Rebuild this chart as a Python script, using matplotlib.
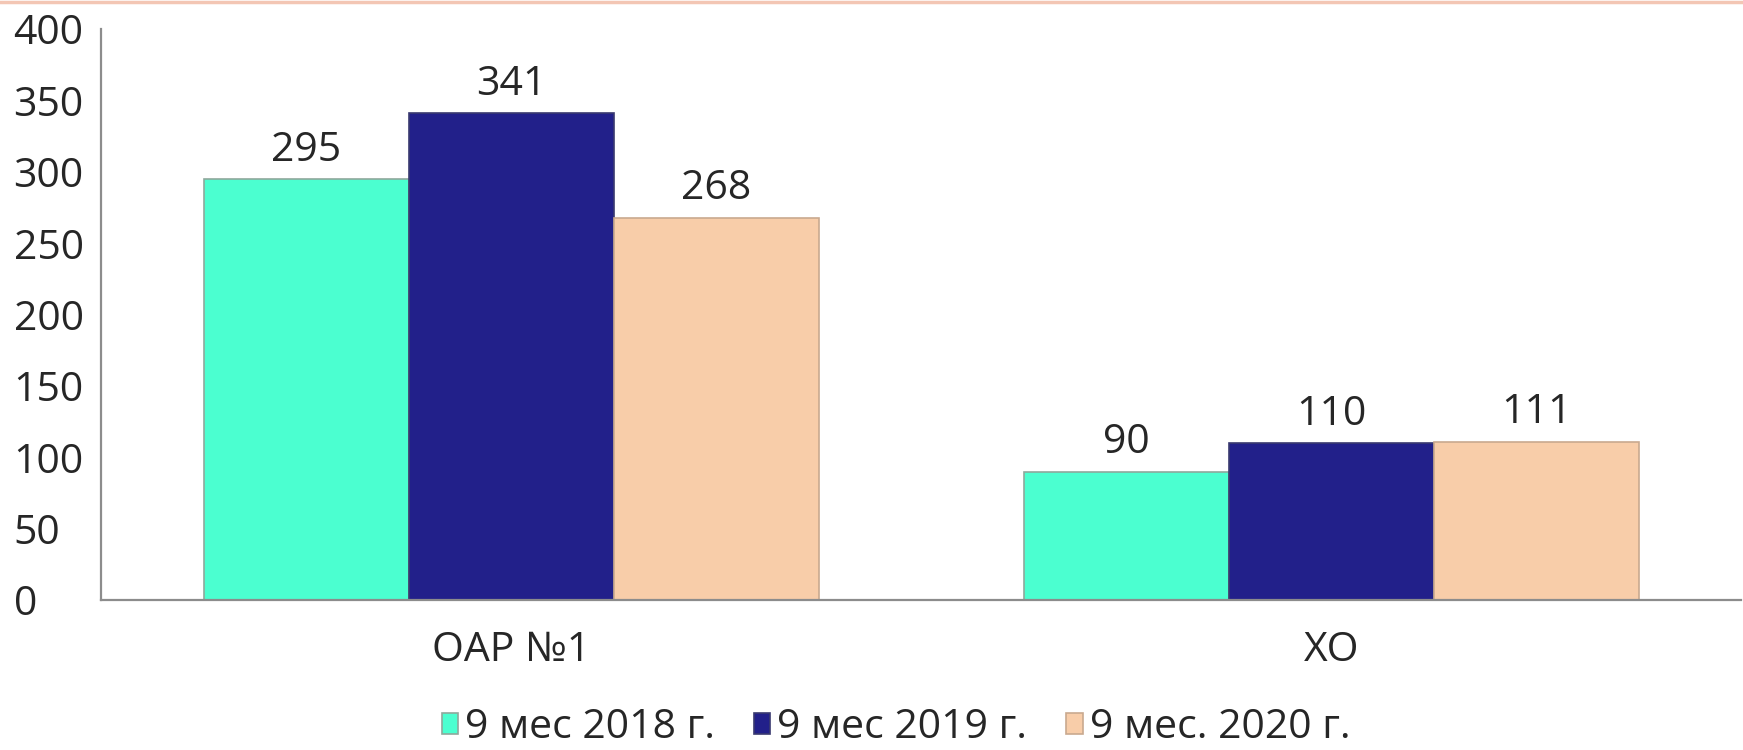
import matplotlib

matplotlib.use("Agg")

import matplotlib.pyplot as plt
import numpy as np
from matplotlib.lines import Line2D

plt.rcParams["font.family"] = ["Open Sans", "DejaVu Sans"]

categories = ["ОАР №1", "ХО"]
series_names = ["9 мес 2018 г.", "9 мес 2019 г.", "9 мес. 2020 г."]
values_2018 = [295, 90]
values_2019 = [341, 110]
values_2020 = [268, 111]
colors = ["#4BFFD0", "#22208A", "#F8CDA9"]
edges = ["#8FA89C", "#3A3A70", "#C9A98F"]

text_color = "#262626"
fsize = 29.5

fig = plt.figure(figsize=(17.43, 7.5), dpi=100)
ax = fig.add_axes([0.058, 0.2, 0.941, 0.761])

x = np.arange(len(categories))
width = 0.25
bars = []
for i, (vals, name) in enumerate(zip([values_2018, values_2019, values_2020], series_names)):
    b = ax.bar(x + (i - 1) * width, vals, width, color=colors[i], edgecolor=edges[i],
               linewidth=1.2, label=name, zorder=2)
    ax.bar_label(b, labels=[str(v) for v in vals], padding=6, fontsize=fsize, color=text_color)
    bars.append(b)

ax.set_xlim(-0.5, 1.5)
ax.set_ylim(0, 400)
ax.set_yticks(range(0, 401, 50))
ax.set_xticks(x)
ax.set_xticklabels(categories)

ax.tick_params(axis="both", length=0, labelsize=fsize, colors=text_color)
ax.tick_params(axis="y", pad=63)
ax.tick_params(axis="x", pad=22)
for lab in ax.get_yticklabels():
    lab.set_horizontalalignment("left")

for side in ("top", "right"):
    ax.spines[side].set_visible(False)
for side in ("left", "bottom"):
    ax.spines[side].set_color("#8C8C8C")
    ax.spines[side].set_linewidth(1.6)

fig.legend(handles=bars, labels=series_names, loc="lower center",
           bbox_to_anchor=(0.514, 0.0), ncol=3, frameon=False, fontsize=fsize,
           handlelength=0.4, handleheight=0.4, handletextpad=0.17,
           columnspacing=0.95, labelcolor=text_color,
           borderpad=0.05, borderaxespad=0.0)

# thin coloured strip along the top edge
fig.add_artist(Line2D([0, 1], [0.998, 0.998], transform=fig.transFigure,
                      color="#F3C6B4", linewidth=2.5))

fig.savefig("out.png", dpi=100)
